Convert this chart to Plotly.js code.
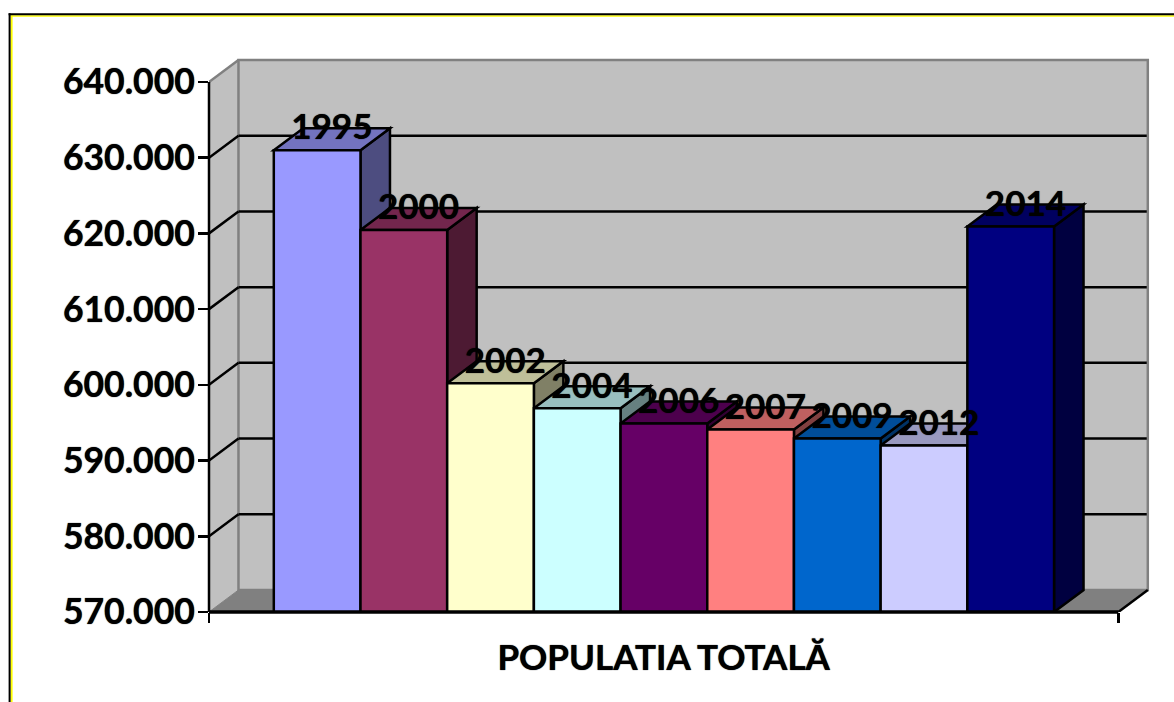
<!DOCTYPE html>
<html>
<head>
<meta charset="utf-8">
<script src="https://cdn.plot.ly/plotly-3.0.1.min.js"></script>
<style>html,body{margin:0;padding:0;background:#fff;overflow:hidden}#chart{width:1174px;height:702px}</style>
</head>
<body>
<div id="chart"></div>
<script>
const years = ["1995","2000","2002","2004","2006","2007","2009","2012","2014"];
const population = [631000,620450,600200,596900,594900,594100,592900,592000,620900];
const barColors = ["#9999FF","#993366","#FFFFCC","#CCFFFF","#660066","#FF8080","#0066CC","#CCCCFF","#000080"];
const tickValues = [570000,580000,590000,600000,610000,620000,630000,640000];
const tickLabels = ["570.000","580.000","590.000","600.000","610.000","620.000","630.000","640.000"];
const chartTitle = "POPULATIA TOTALĂ";

const W = 1174, H = 702;
const L = 208.5, R = 1152, T = 55, B = 612;
const YMIN = 570000, YMAX = 640000, YTOP_PX = 82;
const pxPerUnitY = (B - YTOP_PX) / (YMAX - YMIN);
const barPx = 86.74, firstBarCenterPx = 316.7;
const depthPx = 29.5, risePx = 22;
const axisEndPx = 1118.3;
const labelDropPx = 2.5;
const xOf = p => (p - firstBarCenterPx) / barPx;
const dx = depthPx / barPx;
const dy = risePx / pxPerUnitY;
const xMin = xOf(L), xMax = xOf(R), xEnd = xOf(axisEndPx);
const yTop = YMIN + (B - T) / pxPerUnitY;
const xs = years.map((_, i) => i);
const LW = 2.5;
const boldFont = (size) => ({family: "Lato, sans-serif", size, color: "#000", weight: 700, shadow: "0 0 1px #000"});

const fillShade = (hex, k) => {
  const n = parseInt(hex.slice(1), 16);
  const c = [(n >> 16) & 255, (n >> 8) & 255, n & 255].map(v => Math.round(v * k));
  return `rgb(${c[0]},${c[1]},${c[2]})`;
};
const poly = (pts, fill, lineColor, lineWidth) => ({
  type: "path", xref: "x", yref: "y", layer: "below",
  path: "M" + pts.map(p => p[0] + "," + p[1]).join(" L") + " Z",
  fillcolor: fill, line: {color: lineColor, width: lineWidth}
});
const seg = (x0, y0, x1, y1, color, width) => ({
  type: "line", xref: "x", yref: "y", layer: "below", x0, y0, x1, y1,
  line: {color, width}
});
const pxX = p => (p - L) / (R - L);
const pxY = p => (B - p) / (B - T);
const paperLine = (x0, y0, x1, y1, color, width) => ({
  type: "line", xref: "paper", yref: "paper", layer: "above",
  x0: pxX(x0), y0: pxY(y0), x1: pxX(x1), y1: pxY(y1), line: {color, width}
});

const shapes = [];
// walls and floor
shapes.push(poly([[xMin,YMIN],[xMin+dx,YMIN+dy],[xMin+dx,YMAX+dy],[xMin,YMAX]], "#C0C0C0", "#C0C0C0", 0));
shapes.push(poly([[xMin+dx,YMIN+dy],[xEnd+dx,YMIN+dy],[xEnd+dx,YMAX+dy],[xMin+dx,YMAX+dy]], "#C0C0C0", "#808080", 2.5));
shapes.push(poly([[xMin,YMIN],[xMin+dx,YMIN+dy],[xEnd+dx,YMIN+dy],[xEnd,YMIN]], "#808080", "#808080", 1));
shapes.push(seg(xMin, YMAX, xMin+dx, YMAX+dy, "#808080", 2.5));
// gridlines on the walls
tickValues.filter(v => v > YMIN && v < YMAX).forEach(v => {
  shapes.push(seg(xMin, v, xMin+dx, v+dy, "#000", LW));
  shapes.push(seg(xMin+dx, v+dy, xEnd+dx-0.012, v+dy, "#000", LW));
});
// bar sides and tops, left to right
population.forEach((v, i) => {
  const a = i + 0.5, b = i - 0.5;
  shapes.push(poly([[a,YMIN],[a+dx,YMIN+dy],[a+dx,v+dy],[a,v]], fillShade(barColors[i],0.5), "#000", LW));
  shapes.push(poly([[b,v],[a,v],[a+dx,v+dy],[b+dx,v+dy]], fillShade(barColors[i],0.75), "#000", LW));
});
// outer frame and front axis lines
shapes.push(paperLine(10, 16, W, 16, "#FFFF00", 1.5));
shapes.push(paperLine(11, 15.5, 11, H, "#FFFF00", 2));
shapes.push(paperLine(8, 14.3, W, 14.3, "#000", 2));
shapes.push(paperLine(9, 13.3, 9, H, "#000", 2));
shapes.push(paperLine(L, YTOP_PX, L, B, "#000", LW));
shapes.push(paperLine(L, B, axisEndPx, B, "#000", 3.5));
shapes.push(seg(xEnd, YMIN, xEnd+dx, YMIN+dy, "#000", LW));

const barTrace = {
  type: "bar", x: xs, y: population, width: 1,
  marker: {color: barColors, line: {color: "#000", width: LW}},
  hoverinfo: "skip", showlegend: false
};
const labelTrace = {
  type: "scatter", mode: "text",
  x: xs.map(x => x + dx / 2), y: population.map(v => v + dy - labelDropPx / pxPerUnitY),
  text: years, textposition: "middle center", cliponaxis: false,
  textfont: boldFont(35),
  hoverinfo: "skip", showlegend: false
};

Plotly.newPlot("chart", [barTrace, labelTrace], {
  width: W, height: H, autosize: false,
  margin: {l: L, r: W - R, t: T, b: H - B, pad: 0},
  paper_bgcolor: "#fff", plot_bgcolor: "#fff",
  showlegend: false, bargap: 0,
  title: {
    text: chartTitle, xref: "paper", x: pxX((L + axisEndPx) / 2), xanchor: "center",
    yref: "container", y: 1 - 658 / H, yanchor: "middle",
    font: boldFont(35)
  },
  xaxis: {
    type: "linear", range: [xMin, xMax], tickmode: "array", tickvals: [xMin, xEnd],
    showticklabels: false, ticks: "outside", ticklen: 10, tickwidth: LW, tickcolor: "#000",
    showgrid: false, zeroline: false, showline: false
  },
  yaxis: {
    range: [YMIN, yTop], tickmode: "array", tickvals: tickValues, ticktext: tickLabels,
    ticks: "outside", ticklen: 10, tickwidth: LW, tickcolor: "#000",
    ticklabelstandoff: -4,
    tickfont: boldFont(35.5),
    showgrid: false, zeroline: false, showline: false
  },
  shapes
}, {staticPlot: true, displayModeBar: false});
</script>
</body>
</html>
